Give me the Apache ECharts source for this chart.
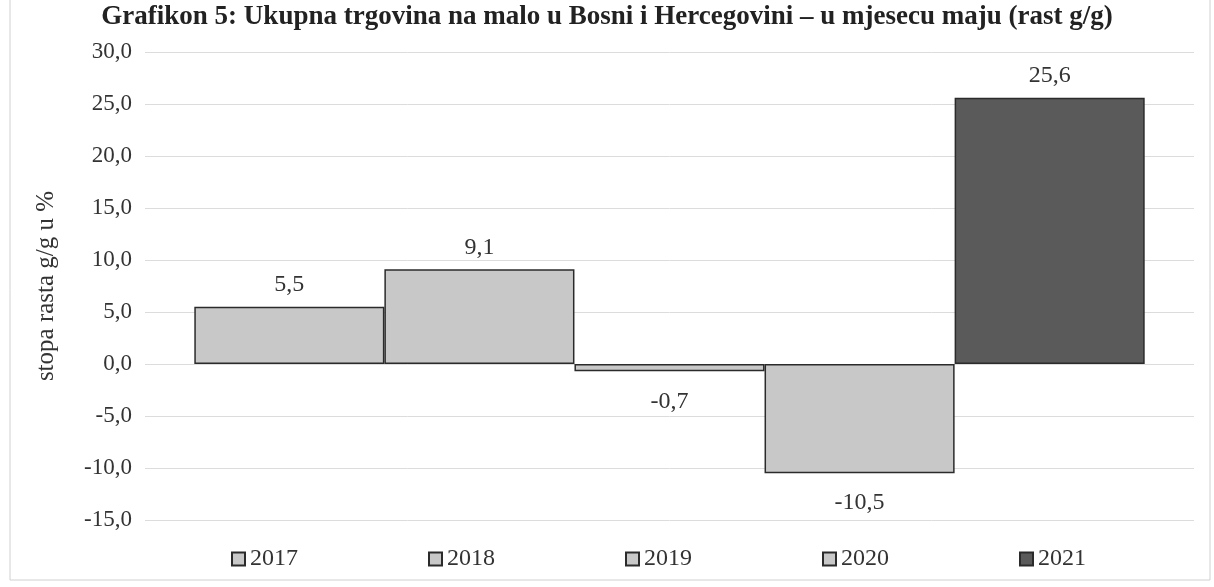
<!DOCTYPE html>
<html>
<head>
<meta charset="utf-8">
<script src="https://cdn.jsdelivr.net/npm/echarts@6/dist/echarts.min.js"></script>
<style>
html, body { margin: 0; padding: 0; background: #fff; }
#chart { width: 1214px; height: 587px; }
</style>
</head>
<body>
<div id="chart"></div>
<script>
var years = ['2017', '2018', '2019', '2020', '2021'];
var values = [5.5, 9.1, -0.7, -10.5, 25.6];
var yTicks = [-15, -10, -5, 0, 5, 10, 15, 20, 25, 30];

var fmt = function(v) {
	return v.toFixed(1).replace('.', ',');
};

var myChart = echarts.init(document.getElementById('chart'));
var seriesList = years.map(function(y, i) {
	var dark = y === '2021';
	var pos = values[i] >= 0;
	return {
		name: y,
		type: 'bar',
		barGap: 0,
		barCategoryGap: '9.4%',
		data: [values[i]],
		itemStyle: {
			color: dark ? '#5a5a5a' : '#c8c8c8',
			borderColor: '#2b2b2b',
			borderWidth: 1.5
		},
		label: {
			show: true,
			position: pos ? 'top' : 'bottom',
			distance: pos ? 10 : 18,
			formatter: function(p) { return fmt(p.value); },
			color: '#333',
			fontFamily: 'Liberation Serif',
			fontSize: 24
		}
	};
});

var option = {
	backgroundColor: '#fff',
	textStyle: { fontFamily: 'Liberation Serif' },
	title: {
		text: 'Grafikon 5: Ukupna trgovina na malo u Bosni i Hercegovini – u mjesecu maju (rast g/g)',
		left: 'center',
		top: -1,
		textStyle: {
			fontFamily: 'Liberation Serif',
			fontWeight: 'bold',
			fontSize: 27,
			color: '#222'
		}
	},
	legend: {
		top: 542,
		left: 226,
		itemGap: 130,
		itemWidth: 13,
		itemHeight: 13,
		icon: 'rect',
		data: years,
		textStyle: {
			fontFamily: 'Liberation Serif',
			fontSize: 24,
			color: '#333'
		}
	},
	grid: {
		left: 145,
		right: 20,
		top: 52,
		bottom: 67
	},
	xAxis: {
		type: 'category',
		data: [''],
		axisLine: { show: false },
		axisTick: { show: false },
		axisLabel: { show: false }
	},
	yAxis: {
		type: 'value',
		min: yTicks[0],
		max: yTicks[yTicks.length - 1],
		interval: 5,
		name: 'stopa rasta g/g u %',
		nameLocation: 'middle',
		nameGap: 86,
		nameTextStyle: {
			fontFamily: 'Liberation Serif',
			fontSize: 25,
			color: '#333'
		},
		axisLabel: {
			formatter: fmt,
			fontFamily: 'Liberation Serif',
			fontSize: 23,
			color: '#333',
			margin: 13
		},
		axisLine: { show: false },
		axisTick: { show: false },
		splitLine: { lineStyle: { color: '#dcdcdc', width: 1 } }
	},
	graphic: [{
		type: 'rect',
		shape: { x: 10, y: -10, width: 1200, height: 590 },
		style: { fill: 'none', stroke: '#d0d0d0', lineWidth: 1 },
		silent: true
	}],
	series: seriesList
};
myChart.setOption(option);
</script>
</body>
</html>
